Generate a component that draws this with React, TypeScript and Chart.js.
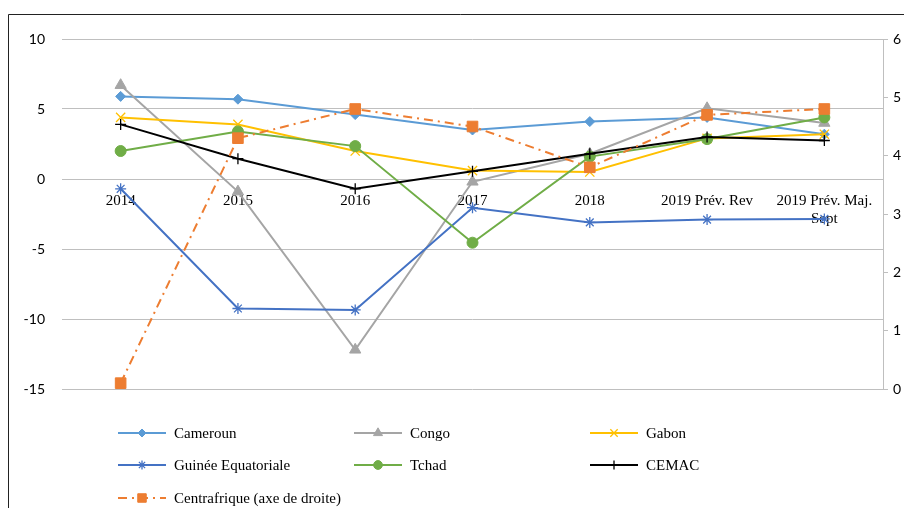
import React, { useEffect, useRef } from 'react';
import { Chart, registerables } from 'chart.js';
import { drawPoint } from 'chart.js/helpers';

Chart.register(...registerables);

const categories: (string | string[])[] = ['2014', '2015', '2016', '2017', '2018', '2019 Prév. Rev', ['2019 Prév. Maj.', 'Sept']];

const cameroun = [5.9, 5.7, 4.6, 3.5, 4.1, 4.4, 3.2];
const congo = [6.7, -0.9, -12.2, -0.2, 1.8, 5.05, 4.0];
const gabon = [4.4, 3.9, 2.0, 0.6, 0.5, 2.9, 3.2];
const guinee = [-0.7, -9.25, -9.35, -2.05, -3.1, -2.9, -2.85];
const tchad = [2.0, 3.4, 2.35, -4.55, 1.6, 2.85, 4.4];
const cemac = [3.9, 1.45, -0.7, 0.55, 1.8, 3.0, 2.75];
const centrafrique = [0.1, 4.3, 4.8, 4.5, 3.8, 4.7, 4.8];

const leftTicks = { min: -15, max: 10, step: 5 };
const rightTicks = { min: 0, max: 6, step: 1 };

const GRID = '#bfbfbf';

const framePlugin = {
  id: 'frame',
  beforeDraw(chart: any) {
    const ctx = chart.ctx;
    ctx.save();
    ctx.strokeStyle = '#222';
    ctx.lineWidth = 1;
    ctx.beginPath();
    ctx.moveTo(0.5, chart.height);
    ctx.lineTo(0.5, 6.5);
    ctx.lineTo(chart.width, 6.5);
    ctx.stroke();
    ctx.restore();
  },
};

const legendPlugin = {
  id: 'customLegend',
  afterDraw(chart: any) {
    const ctx = chart.ctx;
    const colX = [110, 346, 582];
    const rowY = [425, 457, 490];
    chart.data.datasets.forEach((ds: any, i: number) => {
      const c = i % 3;
      const r = Math.floor(i / 3);
      const x0 = colX[c];
      const y = rowY[r];
      ctx.save();
      ctx.strokeStyle = ds.borderColor;
      ctx.lineWidth = ds.borderWidth;
      ctx.setLineDash(ds.borderDash || []);
      ctx.beginPath();
      ctx.moveTo(x0, y);
      ctx.lineTo(x0 + 48, y);
      ctx.stroke();
      ctx.setLineDash([]);
      ctx.fillStyle = ds.pointBackgroundColor;
      ctx.strokeStyle = ds.pointBorderColor;
      ctx.lineWidth = ds.pointBorderWidth;
      drawPoint(ctx, { pointStyle: ds.pointStyle, radius: ds.pointRadius * 0.8, borderWidth: ds.pointBorderWidth, rotation: 0 } as any, x0 + 24, y);
      ctx.fillStyle = '#000';
      ctx.font = '15px "Liberation Serif"';
      ctx.textBaseline = 'middle';
      ctx.textAlign = 'left';
      ctx.fillText(ds.label, x0 + 56, y + 1);
      ctx.restore();
    });
  },
};

function series(label: string, data: number[], color: string, style: string, radius: number, extra: any = {}) {
  const stroke = style === 'cross' || style === 'crossRot' || style === 'star';
  return {
    label,
    data,
    borderColor: color,
    backgroundColor: color,
    borderWidth: 2,
    pointStyle: style,
    pointRadius: radius,
    pointHoverRadius: radius,
    pointBackgroundColor: color,
    pointBorderColor: color,
    pointBorderWidth: stroke ? 1.3 : 1,
    tension: 0,
    fill: false,
    yAxisID: 'y',
    ...extra,
  };
}

export default function App() {
  const ref = useRef<HTMLCanvasElement>(null);
  useEffect(() => {
    const datasets: any[] = [
      series('Cameroun', cameroun, '#5B9BD5', 'rectRot', 5),
      series('Congo', congo, '#A5A5A5', 'triangle', 6.5),
      series('Gabon', gabon, '#FFC000', 'crossRot', 6.5),
      series('Guinée Equatoriale', guinee, '#4472C4', 'star', 5.5),
      series('Tchad', tchad, '#70AD47', 'circle', 5.5),
      series('CEMAC', cemac, '#000000', 'cross', 5.5),
      series('Centrafrique (axe de droite)', centrafrique, '#ED7D31', 'rect', 7.5, { yAxisID: 'y1', borderDash: [9, 5, 2, 5] }),
    ];
    datasets.forEach((d, i) => (d.order = datasets.length - 1 - i));
    const chart = new Chart(ref.current!, {
      type: 'line',
      data: { labels: categories as any, datasets },
      options: {
        animation: false,
        responsive: true,
        maintainAspectRatio: false,
        layout: { padding: { left: 0, right: 0, top: 31, bottom: 119 } },
        plugins: { legend: { display: false }, tooltip: { enabled: false } },
        scales: {
          x: {
            position: { y: 0 } as any,
            offset: true,
            grid: { display: false, drawTicks: false, offset: true },
            border: { display: false },
            ticks: {
              autoSkip: false,
              maxRotation: 0,
              padding: 13,
              color: '#000',
              font: { family: '"Liberation Serif"', size: 15, lineHeight: 1.2 },
            },
          },
          y: {
            position: 'left',
            min: leftTicks.min,
            max: leftTicks.max,
            ticks: { stepSize: leftTicks.step, padding: 17, color: '#000', font: { family: 'Lato', size: 14 } },
            grid: { color: GRID, drawTicks: false, lineWidth: 1 },
            border: { display: false },
            afterFit: (s: any) => { s.width = 54; },
          },
          y1: {
            position: 'right',
            min: rightTicks.min,
            max: rightTicks.max,
            ticks: { stepSize: rightTicks.step, padding: 5, color: '#000', font: { family: 'Lato', size: 14 } },
            grid: { drawOnChartArea: false, drawTicks: true, tickLength: 5, color: GRID },
            border: { display: true, color: GRID },
            afterFit: (s: any) => { s.width = 29; },
          },
        },
      },
      plugins: [framePlugin, legendPlugin],
    });
    return () => chart.destroy();
  }, []);
  return (
    <div style={{ position: 'relative', width: 904, height: 500 }}>
      <canvas ref={ref} />
    </div>
  );
}
